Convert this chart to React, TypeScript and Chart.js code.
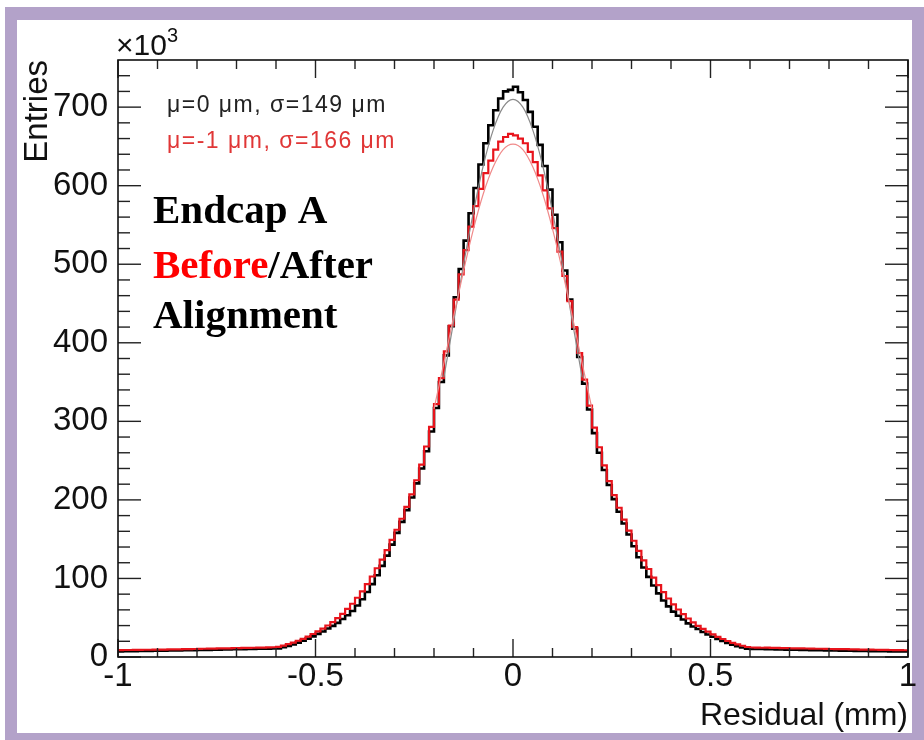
import { useEffect, useRef } from 'react';
import { Chart, registerables } from 'chart.js';

Chart.register(...registerables);

// Histogram binning: 160 bins from -1 to 1 mm
const BIN_MIN = -1;
const BIN_WIDTH = 0.0125;

// "After" alignment (black), entries in units of 10^3, bins left to right
const afterCounts = [
  7.2, 7.3, 7.3, 7.5, 7.6, 7.6, 7.8, 7.9, 8.0, 8.1,
  8.2, 8.3, 8.4, 8.5, 8.7, 8.8, 8.9, 9.0, 9.1, 9.3,
  9.4, 9.5, 9.6, 9.8, 9.9, 10.0, 10.2, 10.3, 10.5, 10.6,
  10.7, 10.8,
  10.9, 12.4, 14.1, 16.0, 18.3, 20.8, 23.4, 26.3, 29.4, 32.5,
  36.3, 39.6, 43.5, 48.4, 53.2, 58.6, 65.5, 73.6, 82.7, 92.8,
  104, 116, 129, 143, 158, 172, 187, 203, 221, 240,
  262, 287, 317, 350, 384, 421, 458, 494, 530, 565,
  597, 627, 654, 677, 696, 711, 720, 722,
  726, 719, 709, 694, 675, 652, 625, 595, 563, 528,
  492, 455, 418, 382, 348, 315, 285, 260, 238, 219,
  201, 185, 170, 156, 141, 127, 114, 102, 91, 81,
  72, 64.5, 57.8, 52.6, 47.7, 42.8, 38.9, 35.6, 31.9, 28.7,
  25.8, 22.9, 20.3, 17.8, 15.6, 13.7, 12.0, 10.6,
  10.4, 10.3, 10.1, 10.0, 9.9, 9.6, 9.6, 9.4, 9.2, 9.2,
  9.0, 8.9, 8.8, 8.6, 8.6, 8.4, 8.3, 8.3, 8.1, 8.0,
  8.0, 7.8, 7.7, 7.7, 7.5, 7.4, 7.4, 7.3, 7.2, 7.2,
  7.1, 7.0,
];

// "Before" alignment (red)
const beforeCounts = [
  8.8, 8.9, 8.9, 9.0, 9.1, 9.2, 9.2, 9.4, 9.5, 9.5,
  9.7, 9.8, 9.8, 10.0, 10.1, 10.2, 10.3, 10.5, 10.6, 10.7,
  10.9, 11.0, 11.1, 11.2, 11.4, 11.5, 11.6, 11.8, 11.9, 12.0,
  12.2, 12.4,
  12.9, 14.5, 16.4, 18.4, 20.7, 23.2, 26.0, 29.3, 32.6, 36.2,
  40.1, 44.5, 49.6, 55.0, 61.2, 67.8, 75.4, 83.6, 92.7, 102.5,
  113, 124, 136, 149, 162, 176, 191, 207, 225, 245,
  268, 293, 322, 355, 389, 422, 455, 487, 518, 548,
  574, 596, 616, 632, 646, 656, 662, 666,
  664, 660, 654, 643, 630, 613, 594, 571, 546, 516,
  485, 453, 420, 387, 353, 320, 292, 267, 244, 224,
  206, 190, 175, 161, 148, 135, 123, 112, 101, 91.5,
  82.5, 74.5, 67, 60.5, 54.5, 49, 44, 39.7, 35.8, 32.2,
  28.9, 25.7, 22.9, 20.4, 18.1, 16.1, 14.3, 12.7,
  12.1, 12.0, 11.8, 11.9, 11.6, 11.5, 11.4, 11.3, 11.1, 11.0,
  11.0, 10.8, 10.7, 10.5, 10.5, 10.3, 10.2, 10.1, 9.9, 9.9,
  9.7, 9.6, 9.5, 9.4, 9.3, 9.2, 9.0, 9.0, 8.9, 8.8,
  8.7, 8.6,
];

// Gaussian fit curves (sampled)
const afterFitX = [-0.175, -0.15, -0.125, -0.1, -0.075, -0.05, -0.025, 0, 0.025, 0.05, 0.075, 0.1, 0.125, 0.15, 0.175];
const afterFitY = [356, 428, 500, 567, 626, 671, 700, 710, 700, 671, 626, 567, 500, 428, 356];
const beforeFitX = [-0.2, -0.175, -0.15, -0.125, -0.1, -0.075, -0.05, -0.025, 0, 0.025, 0.05, 0.075, 0.1, 0.125, 0.15, 0.175, 0.2];
const beforeFitY = [316, 374, 434, 492, 545, 590, 624, 646, 653, 646, 624, 590, 545, 492, 434, 374, 316];

// Axes
const X_MIN = -1;
const X_MAX = 1;
const Y_MIN = 0;
const Y_MAX = 760;
const xMajorTicks = [-1, -0.5, 0, 0.5, 1];
const xMinorTicks = [-0.9, -0.8, -0.7, -0.6, -0.4, -0.3, -0.2, -0.1, 0.1, 0.2, 0.3, 0.4, 0.6, 0.7, 0.8, 0.9];
const yMajorTicks = [0, 100, 200, 300, 400, 500, 600, 700];
const yMinorTicks = [20, 40, 60, 80, 120, 140, 160, 180, 220, 240, 260, 280, 320, 340, 360, 380, 420, 440, 460, 480, 520, 540, 560, 580, 620, 640, 660, 680, 720, 740];

const SANS = "'Liberation Sans', Arial, Helvetica, sans-serif";
const SERIF = "'Liberation Serif', 'Times New Roman', serif";
const RED = '#e8141c';

function toHist(counts: number[]) {
  const pts = counts.map((c, i) => ({ x: BIN_MIN + i * BIN_WIDTH, y: c }));
  pts.push({ x: BIN_MIN + counts.length * BIN_WIDTH, y: counts[counts.length - 1] });
  return pts;
}

function zip(xs: number[], ys: number[]) {
  return xs.map((x, i) => ({ x, y: ys[i] }));
}

const framePlugin = {
  id: 'rootFrame',
  afterDatasetsDraw(chart: any) {
    const { ctx, chartArea: a, scales } = chart;
    const xs = scales.x;
    const ys = scales.y;
    const line = (x1: number, y1: number, x2: number, y2: number) => {
      ctx.beginPath();
      ctx.moveTo(x1, y1);
      ctx.lineTo(x2, y2);
      ctx.stroke();
    };
    ctx.save();
    ctx.strokeStyle = '#222';
    ctx.lineWidth = 1.4;
    const xTick = (v: number, len: number) => {
      const p = xs.getPixelForValue(v);
      line(p, a.bottom, p, a.bottom - len);
      line(p, a.top, p, a.top + len);
    };
    const yTick = (v: number, len: number) => {
      const p = ys.getPixelForValue(v);
      line(a.left, p, a.left + len, p);
      line(a.right, p, a.right - len, p);
    };
    xMajorTicks.forEach((v) => xTick(v, 18));
    xMinorTicks.forEach((v) => xTick(v, 9));
    yMajorTicks.forEach((v) => yTick(v, 23));
    yMinorTicks.forEach((v) => yTick(v, 12));
    ctx.strokeStyle = '#111';
    ctx.lineWidth = 1.6;
    ctx.strokeRect(a.left, a.top, a.right - a.left, a.bottom - a.top);
    ctx.restore();
  },
  afterDraw(chart: any) {
    const { ctx } = chart;
    ctx.save();
    ctx.textAlign = 'left';
    ctx.textBaseline = 'alphabetic';
    // x10^3 exponent
    ctx.fillStyle = '#111';
    ctx.font = `30px ${SANS}`;
    ctx.fillText('\u00d710', 116, 55);
    const w = ctx.measureText('\u00d710').width;
    ctx.font = `20px ${SANS}`;
    ctx.fillText('3', 116 + w, 42);
    // fit results
    ctx.font = `23px ${SANS}`;
    (ctx as any).letterSpacing = '1.5px';
    ctx.fillStyle = '#222';
    ctx.fillText('\u03bc=0 \u03bcm, \u03c3=149 \u03bcm', 167, 112);
    ctx.fillStyle = '#e03636';
    ctx.fillText('\u03bc=-1 \u03bcm, \u03c3=166 \u03bcm', 167, 148);
    (ctx as any).letterSpacing = '0px';
    // labels
    ctx.font = `bold 41px ${SERIF}`;
    ctx.fillStyle = '#000';
    ctx.fillText('Endcap A', 153, 223);
    ctx.fillStyle = '#ff0000';
    ctx.fillText('Before', 153, 278);
    const bw = ctx.measureText('Before').width;
    ctx.fillStyle = '#000';
    ctx.fillText('/After', 153 + bw, 278);
    ctx.fillText('Alignment', 153, 328);
    ctx.restore();
  },
};

export default function App() {
  const ref = useRef<HTMLCanvasElement | null>(null);

  useEffect(() => {
    if (!ref.current) return;
    const chart = new Chart(ref.current, {
      type: 'line',
      data: {
        datasets: [
          {
            label: 'Before fit',
            data: zip(beforeFitX, beforeFitY),
            borderColor: '#f08a8a',
            borderWidth: 1.2,
            pointRadius: 0,
            cubicInterpolationMode: 'monotone',
            fill: false,
          },
          {
            label: 'After fit',
            data: zip(afterFitX, afterFitY),
            borderColor: '#8a8a8a',
            borderWidth: 1.2,
            pointRadius: 0,
            cubicInterpolationMode: 'monotone',
            fill: false,
          },
          {
            label: 'Before',
            data: toHist(beforeCounts),
            borderColor: RED,
            borderWidth: 2.2,
            pointRadius: 0,
            stepped: 'before',
            borderJoinStyle: 'miter',
            fill: false,
          },
          {
            label: 'After',
            data: toHist(afterCounts),
            borderColor: '#000',
            borderWidth: 2.6,
            pointRadius: 0,
            stepped: 'before',
            borderJoinStyle: 'miter',
            fill: false,
          },
        ],
      } as any,
      options: {
        animation: false,
        responsive: false,
        maintainAspectRatio: false,
        devicePixelRatio: 1,
        layout: { padding: { left: 0, top: 60, right: 16, bottom: 0 } },
        plugins: { legend: { display: false }, tooltip: { enabled: false } },
        scales: {
          x: {
            type: 'linear',
            min: X_MIN,
            max: X_MAX,
            grid: { display: false, drawTicks: false, tickLength: 0 },
            border: { display: false },
            afterBuildTicks: (s: any) => {
              s.ticks = xMajorTicks.map((value) => ({ value }));
            },
            afterFit: (s: any) => {
              s.height = 83;
            },
            ticks: {
              autoSkip: false,
              maxRotation: 0,
              padding: 0,
              color: '#111',
              font: { family: SANS, size: 33, lineHeight: 1.2 },
              callback: (v: any) => String(v),
            },
            title: {
              display: true,
              text: 'Residual (mm)',
              align: 'end',
              color: '#111',
              font: { family: SANS, size: 32, lineHeight: 1.2 },
              padding: { top: 0, bottom: 5 },
            },
          },
          y: {
            type: 'linear',
            min: Y_MIN,
            max: Y_MAX,
            grid: { display: false, drawTicks: false, tickLength: 0 },
            border: { display: false },
            afterBuildTicks: (s: any) => {
              s.ticks = yMajorTicks.map((value) => ({ value }));
            },
            afterFit: (s: any) => {
              s.width = 118;
            },
            ticks: {
              autoSkip: false,
              padding: 10,
              color: '#111',
              font: { family: SANS, size: 33, lineHeight: 1.2 },
              callback: (v: any) => String(v),
            },
            title: {
              display: true,
              text: 'Entries',
              align: 'end',
              color: '#111',
              font: { family: SANS, size: 33, lineHeight: 1.2 },
              padding: { top: 18, bottom: 0 },
            },
          },
        },
      } as any,
      plugins: [framePlugin],
    });
    return () => chart.destroy();
  }, []);

  return (
    <div
      style={{
        position: 'fixed',
        left: 0,
        top: 0,
        width: 924,
        height: 740,
        background: '#fff',
        overflow: 'hidden',
      }}
    >
      <div
        style={{
          position: 'absolute',
          left: 5,
          top: 7,
          width: 919,
          height: 733,
          boxSizing: 'border-box',
          borderStyle: 'solid',
          borderColor: '#b3a2c9',
          borderWidth: '13px 12px 7px 12px',
        }}
      />
      <canvas
        ref={ref}
        width={924}
        height={740}
        style={{ position: 'absolute', left: 0, top: 0, width: 924, height: 740 }}
      />
    </div>
  );
}
